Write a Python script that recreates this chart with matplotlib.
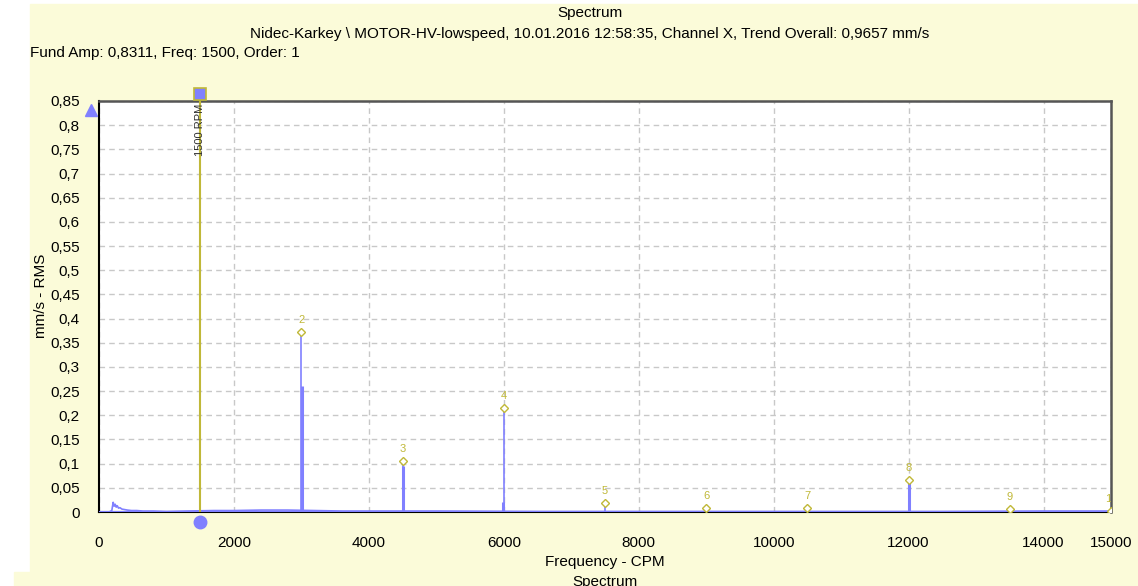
import numpy as np
import matplotlib
matplotlib.use("Agg")
import matplotlib.pyplot as plt
import matplotlib.transforms as mtransforms
from matplotlib.patches import Rectangle

plt.rcParams["font.family"] = ["Liberation Sans", "DejaVu Sans"]
plt.rcParams["font.size"] = 11

# Datos
fund_freq = 1500
fund_amp = 0.8311

# espectro de fondo (bajo nivel)
base_freq = [0, 150, 190, 210, 225, 240, 255, 270, 290, 310, 340, 380, 420, 480, 560, 650,
             800, 1000, 1300, 1700, 2000, 2400, 2800, 3200, 3600, 4000, 5000, 6500, 8000,
             10000, 12500, 14000, 15000]
base_amp = [0.0, 0.0, 0.003, 0.02, 0.012, 0.016, 0.01, 0.013, 0.008, 0.009, 0.006, 0.005,
            0.004, 0.003, 0.003, 0.002, 0.002, 0.001, 0.002, 0.003, 0.003, 0.004, 0.004,
            0.003, 0.002, 0.002, 0.002, 0.001, 0.001, 0.001, 0.001, 0.002, 0.002]

# lineas del espectro (picos)
peak_freq = [1500, 3000, 4500, 6000, 7500, 12000]
peak_amp = [0.8311, 0.37, 0.10, 0.21, 0.015, 0.065]
# bins vecinos mas anchos
side_freq = [3010, 4510, 5990, 12010]
side_amp = [0.26, 0.095, 0.02, 0.06]

# marcadores de armonicos
harm_order = [2, 3, 4, 5, 6, 7, 8, 9, 10]
harm_freq = [3000, 4500, 6000, 7500, 9000, 10500, 12000, 13500, 15000]
harm_amp = [0.373, 0.106, 0.216, 0.019, 0.008, 0.008, 0.066, 0.006, 0.003]

yticks = [0, 0.05, 0.1, 0.15, 0.2, 0.25, 0.3, 0.35, 0.4, 0.45, 0.5, 0.55, 0.6, 0.65, 0.7,
          0.75, 0.8, 0.85]
xticks = [0, 2000, 4000, 6000, 8000, 10000, 12000, 14000, 15000]

bg = "#fbfbd9"
blue = "#8080ff"
olive = "#c0b838"

W, H = 1138, 586
fig = plt.figure(figsize=(W / 100, H / 100), dpi=100, facecolor="white")
fig.patches.append(Rectangle((30 / W, 14 / H), 1 - 30 / W, 1 - 18 / H,
                             transform=fig.transFigure, color=bg, zorder=-5))
fig.patches.append(Rectangle((14 / W, 0), 1 - 14 / W, 14 / H,
                             transform=fig.transFigure, color=bg, zorder=-5))

ax = fig.add_axes([99 / W, 1 - 512 / H, 1012 / W, 411 / H])
ax.set_facecolor("white")

ax.plot(base_freq, base_amp, color=blue, lw=1.2, zorder=3)
ax.vlines(peak_freq, 0, peak_amp, color=blue, lw=1.2, zorder=3)
ax.vlines(side_freq, 0, side_amp, color=blue, lw=2.2, zorder=3)
ax.axhline(0, color=blue, lw=1.5, zorder=4)

# armonicos
ax.plot(harm_freq, harm_amp, ls="none", marker="D", ms=4.5, mfc="white", mec=olive,
        mew=1, zorder=5)
for o, f, a in zip(harm_order, harm_freq, harm_amp):
    ax.annotate(str(o), (f, a), xytext=(0, 5), textcoords="offset points", ha="center",
                va="bottom", color=olive, fontsize=8, zorder=6, annotation_clip=False,
                clip_on=True)

# cursor fundamental
ax.axvline(fund_freq, color=olive, lw=1.5, zorder=6)
ax.text(fund_freq, 0.845, "1500 RPM", rotation=90, ha="center", va="top", fontsize=8,
        color="#303030", zorder=7)
off_up = mtransforms.offset_copy(ax.get_xaxis_transform(), fig=fig, x=0, y=5, units="points")
ax.plot([fund_freq], [1], transform=off_up, marker="s", ms=8, mfc=blue, mec=olive, mew=1.2,
        clip_on=False, zorder=8)
off_dn = mtransforms.offset_copy(ax.get_xaxis_transform(), fig=fig, x=0, y=-7, units="points")
ax.plot([fund_freq], [0], transform=off_dn, marker="o", ms=9, color=blue, clip_on=False,
        zorder=8)
off_lt = mtransforms.offset_copy(ax.get_yaxis_transform(), fig=fig, x=-6, y=0, units="points")
ax.plot([0], [fund_amp], transform=off_lt, marker="^", ms=9, color=blue, clip_on=False,
        zorder=8)

ax.set_xlim(0, 15000)
ax.set_ylim(0, 0.85)
ax.set_xticks(xticks)
ax.set_xticklabels([str(t) for t in xticks], fontsize=11)
ax.set_yticks(yticks)
ax.set_yticklabels([("%g" % t).replace(".", ",") for t in yticks], fontsize=11)
ax.tick_params(length=0, pad=0)
ax.tick_params(axis="y", pad=14)
ax.tick_params(axis="x", pad=17)
ax.grid(True, color="#c8c8c8", ls=(0, (4, 3)), lw=1)
ax.set_axisbelow(True)

for s in ["left", "bottom"]:
    ax.spines[s].set_color("black")
    ax.spines[s].set_linewidth(1.5)
for s in ["top", "right"]:
    ax.spines[s].set_color("#555555")
    ax.spines[s].set_linewidth(1.8)

fig.text(590 / W, 1 - 13 / H, "Spectrum", ha="center", va="center", fontsize=11)
fig.text(590 / W, 1 - 34 / H,
         "Nidec-Karkey \\ MOTOR-HV-lowspeed, 10.01.2016 12:58:35, Channel X, Trend Overall: 0,9657 mm/s",
         ha="center", va="center", fontsize=11)
fig.text(30 / W, 1 - 53 / H, "Fund Amp: 0,8311, Freq: 1500, Order: 1", ha="left",
         va="center", fontsize=11)
fig.text(41 / W, 1 - 296 / H, "mm/s - RMS", rotation=90, ha="center", va="center",
         fontsize=11)
fig.text(605 / W, 1 - 562 / H, "Frequency - CPM", ha="center", va="center", fontsize=11)
fig.text(605 / W, 1 - 582 / H, "Spectrum", ha="center", va="center", fontsize=11)

fig.savefig("out.png", dpi=100, facecolor=fig.get_facecolor())
